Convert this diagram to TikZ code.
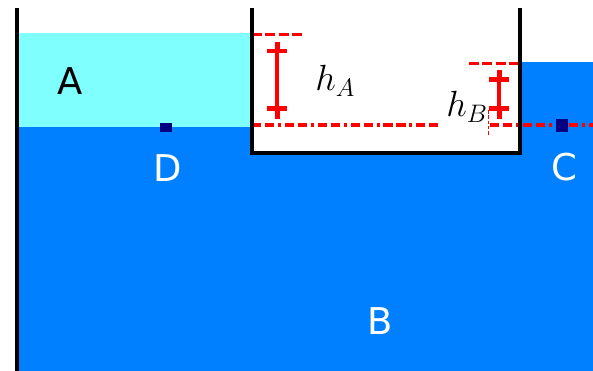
\documentclass[tikz,border=0pt]{standalone}
\usepackage{fontspec}
\setsansfont{DejaVu Sans}
\usetikzlibrary{arrows.meta}
\definecolor{waterA}{RGB}{128,255,255}
\definecolor{waterB}{RGB}{0,128,255}
\definecolor{ptnavy}{RGB}{0,0,128}
\tikzset{
  wall/.style={line width=2.2pt, black},
  levelline/.style={red, line width=2.1pt, dash pattern=on 5.7pt off 1.9pt},
  refline/.style={red, line width=2.1pt, dash pattern=on 5.2pt off 2.2pt on 5.2pt off 2.2pt on 1.7pt off 2.2pt},
  dimarrow/.style={red, line width=2.4pt,
    {Rectangle[length=4pt,width=2.4pt,line width=0.1pt]Bar[width=11.5pt,line width=2.6pt]}-{Bar[width=11.5pt,line width=2.6pt]Rectangle[length=4pt,width=2.4pt,line width=0.1pt]}},
  letter/.style={font=\sffamily\fontsize{21}{25}\selectfont, inner sep=0pt},
  hlabel/.style={font=\fontsize{22}{26}\selectfont, inner sep=0pt, anchor=base west},
  point/.style={fill=ptnavy, inner sep=0pt, minimum width=0.24cm, minimum height=0.18cm}
}
\begin{document}
\begin{tikzpicture}[x=0.02cm, y=-0.02cm]
  \useasboundingbox (0,0) rectangle (593,371);
  % water
  \fill[waterB] (17,127.5) rectangle (593,371);
  \fill[waterB] (520,61.7) rectangle (593,127.5);
  \fill[waterA] (17,33) rectangle (252,127.5);
  \fill[white] (252,8) rectangle (520,153);
  % reference points
  \coordinate (hAtop) at (277,41.7);
  \coordinate (hAbot) at (277,118);
  \coordinate (hBtop) at (499,70);
  \coordinate (hBbot) at (499,118);
  \coordinate (levA1) at (252,34.5);
  \coordinate (levA2) at (303,34.5);
  \coordinate (refA1) at (252,125.3);
  \coordinate (refA2) at (440,125.3);
  \coordinate (levB1) at (469,63.5);
  \coordinate (levB2) at (520,63.5);
  \coordinate (refB1) at (490,125.3);
  \coordinate (refB2) at (593,125.3);
  % level lines
  \draw[levelline] (levA1) -- (levA2);
  \draw[refline] (refA1) -- (refA2);
  \draw[levelline] (levB1) -- (levB2);
  \draw[refline] (refB1) -- (refB2);
  \draw[red, line width=0.6pt, dash pattern=on 2pt off 1pt] (488.5,110) -- (488.5,135);
  % heights
  \draw[dimarrow] (hAtop) -- (hAbot);
  \draw[dimarrow] (hBtop) -- (hBbot);
  \node[hlabel] (hA) at (315,90.7) {$h_A$};
  \node[hlabel] (hB) at (446,117) {$h_B$};
  % walls
  \draw[wall] (17,8) -- (17,371);
  \draw[wall] (252,8) -- (252,153) -- (520,153) -- (520,8);
  % points and labels
  \node[point] (ptD) at (166,127.3) {};
  \node[point, minimum width=0.26cm, minimum height=0.26cm] (ptC) at (562,125.3) {};
  \node[letter] (labA) at (70,81) {A};
  \node[letter, white] (labD) at (168,168) {D};
  \node[letter, white] (labC) at (564,167) {C};
  \node[letter, white] (labB) at (380,321) {B};
\end{tikzpicture}
\end{document}
